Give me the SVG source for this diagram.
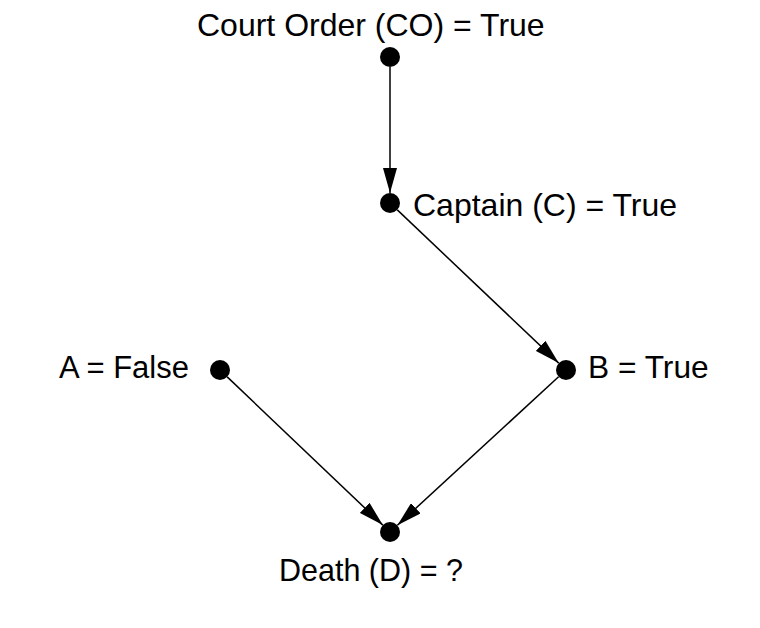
<svg xmlns="http://www.w3.org/2000/svg" width="760" height="628" viewBox="0 0 760 628">
<style>
.lbl{font-family:"Liberation Sans",Arial,Helvetica,sans-serif;font-size:31px;fill:#000}
.big{font-size:32px}
.dot{fill:#000}
.edge{stroke:#000;stroke-width:1.5;fill:none;marker-end:url(#arr)}
</style>
<defs>
<marker id="arr" viewBox="0 0 25 14" refX="25" refY="7" markerWidth="25" markerHeight="14" markerUnits="userSpaceOnUse" orient="auto">
<path d="M0,0 L25,7 L0,14 z" fill="#000"/>
</marker>
</defs>
<rect width="760" height="628" fill="#fff"/>
<g id="connectors">
<line class="edge" x1="390" y1="67" x2="390" y2="193"/>
<line class="edge" x1="397.3" y1="209.9" x2="558.7" y2="363.1"/>
<line class="edge" x1="227.2" y1="376.9" x2="382.8" y2="525.1"/>
<line class="edge" x1="558.6" y1="376.8" x2="397.4" y2="525.2"/>
</g>
<g id="node-co">
<circle class="dot" cx="390" cy="57" r="10"/>
<text class="lbl big" x="197" y="36">Court Order (CO) = True</text>
</g>
<g id="node-c">
<circle class="dot" cx="390" cy="203" r="10"/>
<text class="lbl big" x="413" y="216">Captain (C) = True</text>
</g>
<g id="node-a">
<circle class="dot" cx="220" cy="370" r="10"/>
<text class="lbl" x="189" y="378" text-anchor="end">A = False</text>
</g>
<g id="node-b">
<circle class="dot" cx="566" cy="370" r="10"/>
<text class="lbl" x="588" y="378" style="font-size:31.7px">B = True</text>
</g>
<g id="node-d">
<circle class="dot" cx="390" cy="532" r="10"/>
<text class="lbl" x="279" y="581" style="font-size:30.5px">Death (D) = ?</text>
</g>
</svg>
